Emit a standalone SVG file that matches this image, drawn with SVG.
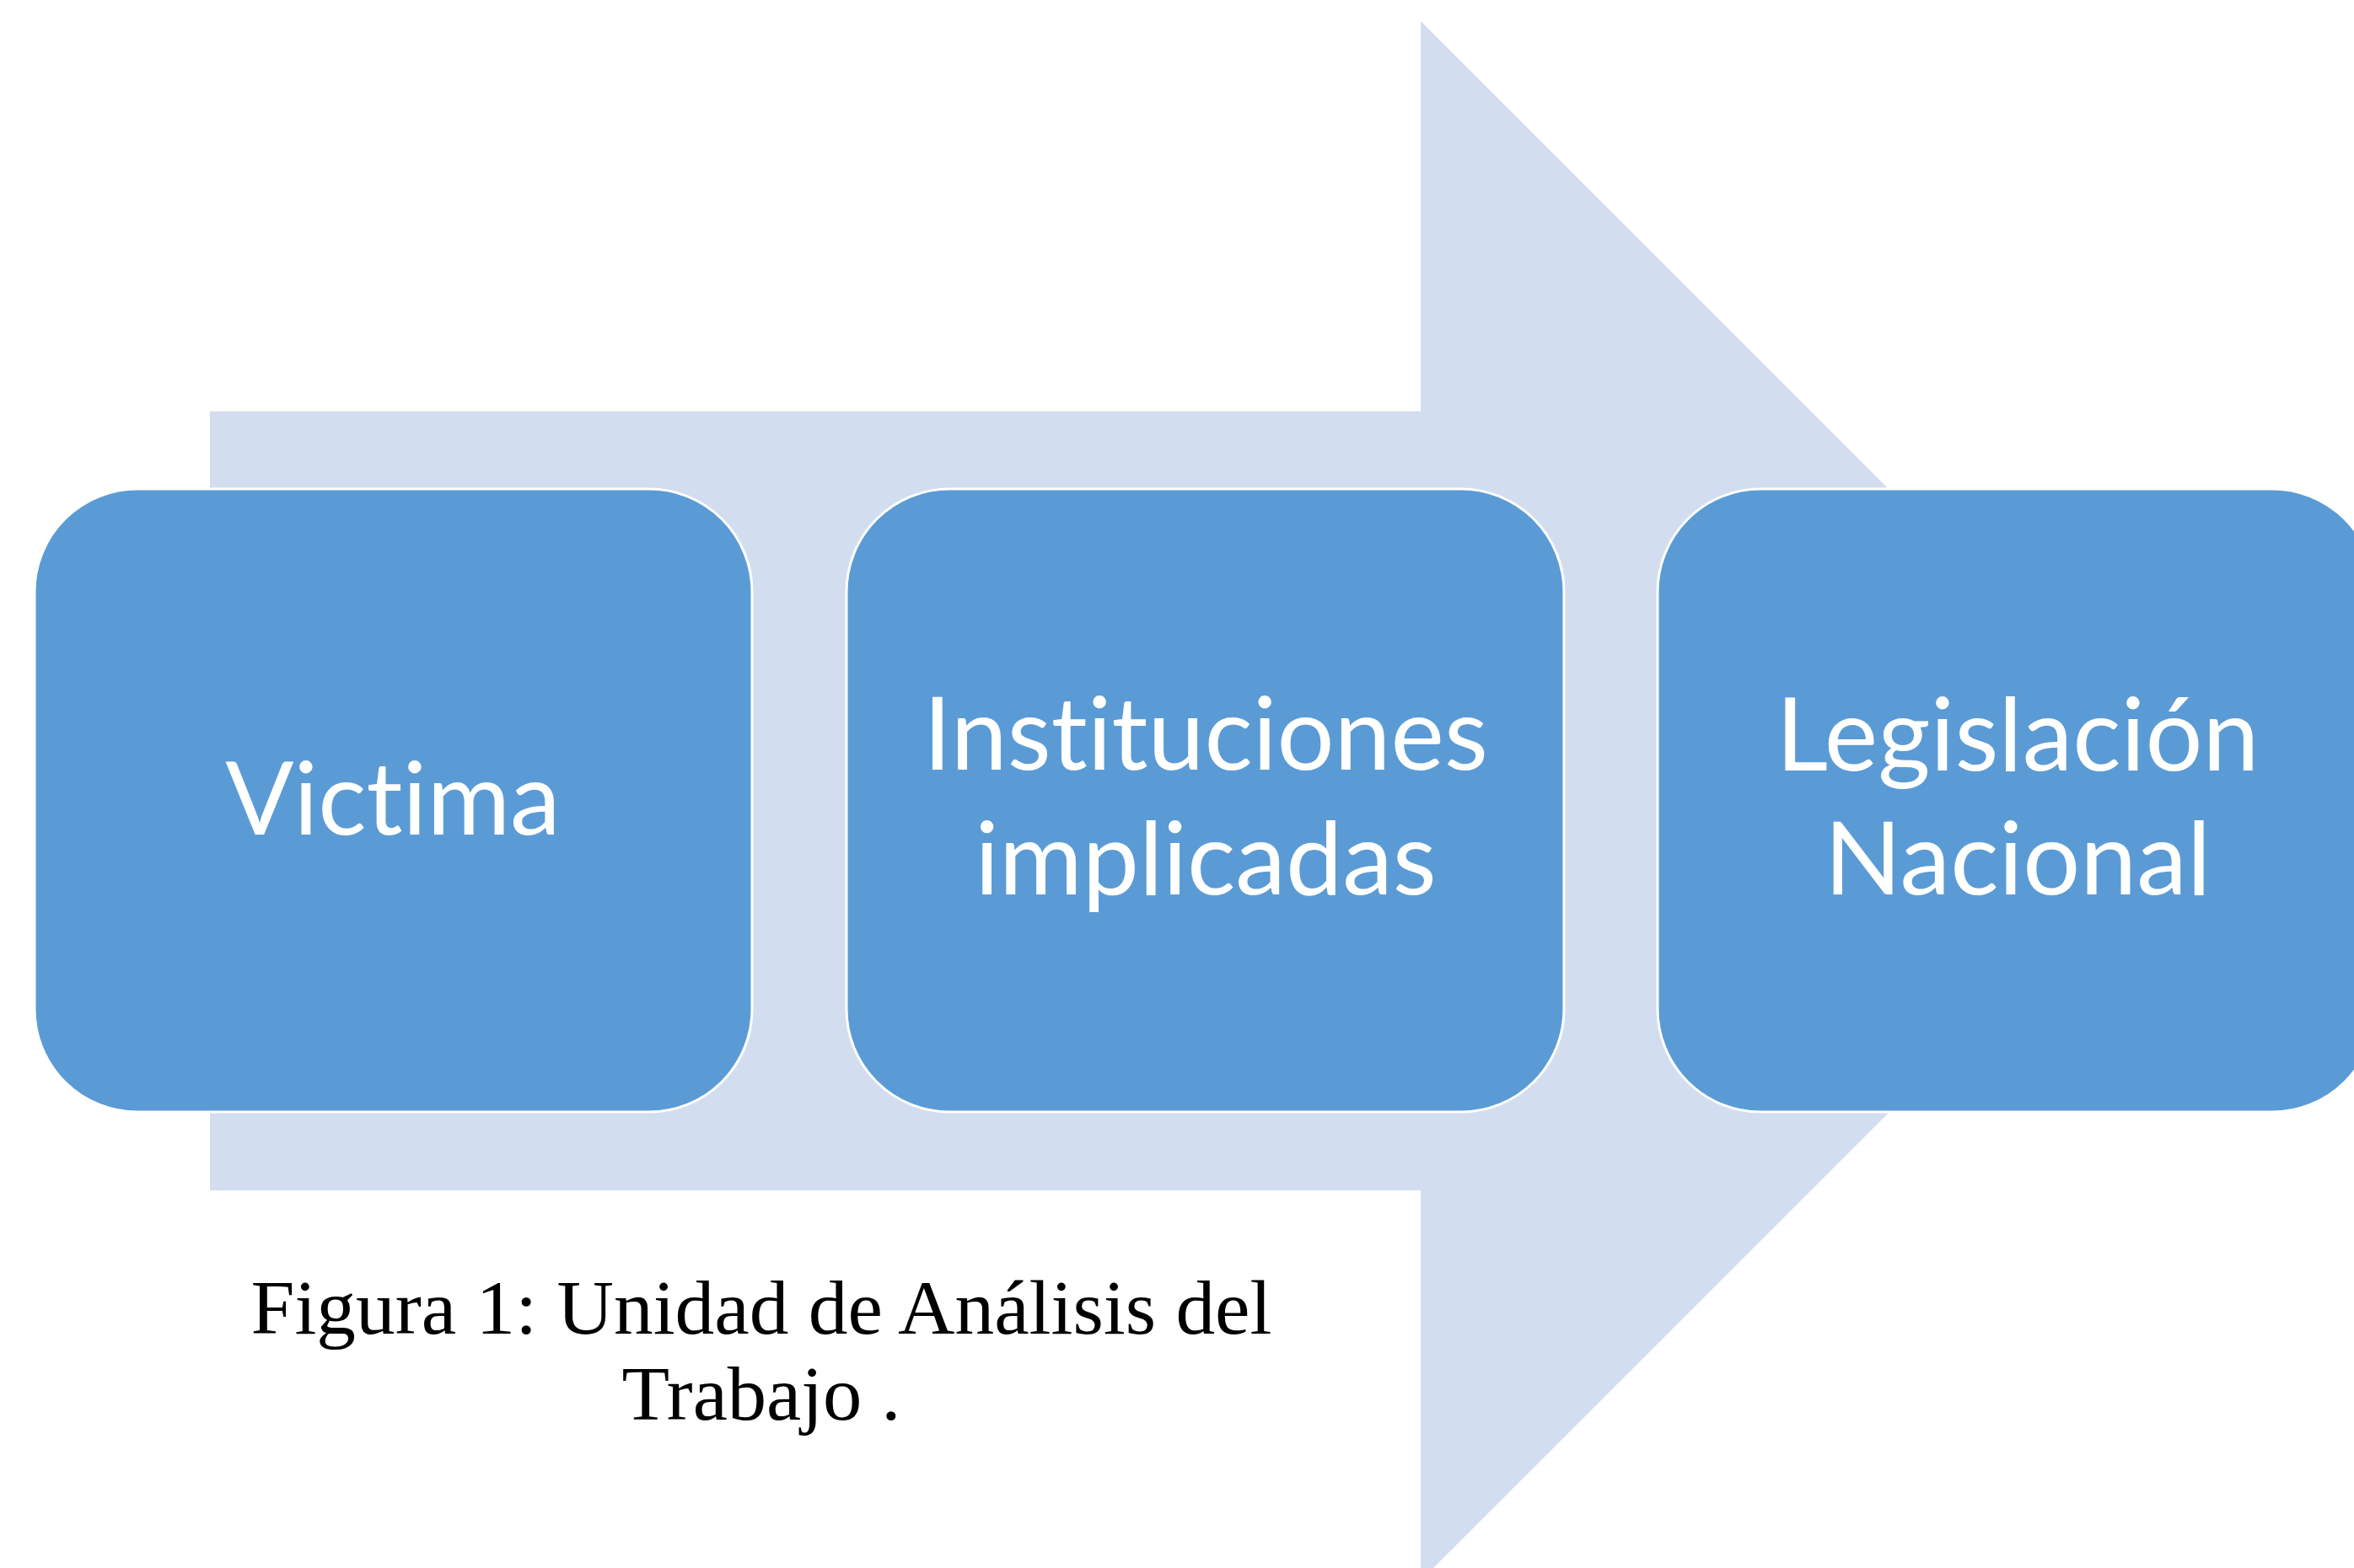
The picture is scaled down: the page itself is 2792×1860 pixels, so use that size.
<svg xmlns="http://www.w3.org/2000/svg" width="2792" height="1860" viewBox="0 0 2792 1860">
<style>
.node rect{fill:#5B9BD5;stroke:#FFFFFF;stroke-width:3}
.lbl{font-family:Lato,"Open Sans","Liberation Sans",sans-serif;font-size:120px;fill:#FFFFFF;text-anchor:middle;font-variant-ligatures:none;font-feature-settings:"liga" 0,"clig" 0}
.cap{font-family:"Liberation Serif","DejaVu Serif",serif;font-size:92px;fill:#000000;text-anchor:middle}
</style>
<rect x="0" y="0" width="2792" height="1860" fill="#FFFFFF"/>
<g id="connectors">
<polygon id="arrow" points="249,488 1685,488 1685,25 2610,950 1685,1875 1685,1412 249,1412" fill="#D2DEEF"/>
</g>
<g id="victima" class="node">
<rect x="41" y="580" width="851" height="739" rx="122" ry="122"/>
<text class="lbl" x="466" y="990">Victima</text>
</g>
<g id="instituciones" class="node">
<rect x="1004" y="580" width="851" height="739" rx="122" ry="122"/>
<text class="lbl" x="1430" y="913">Instituciones</text>
<text class="lbl" x="1430" y="1061">implicadas</text>
</g>
<g id="legislacion" class="node">
<rect x="1966" y="580" width="851" height="739" rx="122" ry="122"/>
<text class="lbl" x="2393" y="914">Legislación</text>
<text class="lbl" x="2393" y="1061">Nacional</text>
</g>
<g id="caption">
<text class="cap" x="903" y="1582" textLength="1211" lengthAdjust="spacingAndGlyphs">Figura 1: Unidad de Análisis del</text>
<text class="cap" x="903" y="1684" textLength="331" lengthAdjust="spacingAndGlyphs">Trabajo .</text>
</g>
</svg>
